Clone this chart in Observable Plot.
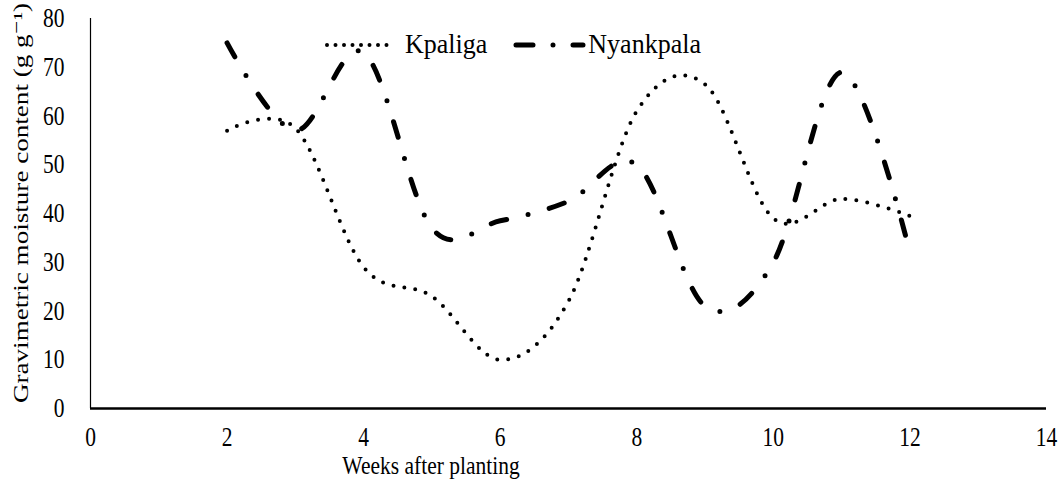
<!DOCTYPE html>
<html>
<head>
<meta charset="utf-8">
<script src="https://cdn.jsdelivr.net/npm/d3@7"></script>
<script src="https://cdn.jsdelivr.net/npm/@observablehq/plot@0.6"></script>
<style>
  html, body { margin: 0; padding: 0; background: #fff; }
  #wrap { position: relative; width: 1060px; height: 482px; overflow: hidden; font-family: "Liberation Serif", "DejaVu Serif", serif; color: #000; }
  #legend { position: absolute; top: 35px; left: 324px; display: flex; align-items: center; font-size: 26px; height: 20px; }
  #legend .item { display: flex; align-items: center; height: 20px; }
  #legend svg { display: block; }
  #legend span { display: inline-block; line-height: 20px; transform: scaleY(1.05); transform-origin: 50% 50%; white-space: nowrap; }
  #xlabel { position: absolute; left: 431px; top: 454px; font-size: 21.5px; line-height: 1; white-space: nowrap; transform: translateX(-50%) scaleY(1.2); transform-origin: 50% 0; }
  #ylabel { position: absolute; left: 22px; top: 203px; font-size: 21.5px; line-height: 1; white-space: nowrap; transform: translate(-50%, -50%) rotate(-90deg) scaleX(1.26); transform-origin: 50% 50%; }
</style>
</head>
<body>
<div id="wrap"></div>
<script>
const weeks = [2, 3, 4, 5, 6, 7, 8, 9, 10, 11, 12];
const kpaliga = [57, 57.5, 29, 23, 10, 22, 61, 66.5, 39, 43, 39.5];
const nyankpala = [75, 57, 73, 37, 38.5, 42.5, 50, 21, 30, 69, 32];
const xTicks = [0, 2, 4, 6, 8, 10, 12, 14];
const yTicks = [0, 10, 20, 30, 40, 50, 60, 70, 80];
const seriesNames = ["Kpaliga", "Nyankpala"];
const xTitle = "Weeks after planting";
const yTitle = "Gravimetric moisture content (g g\u207B\u00B9)";

const styles = {
  Kpaliga: { strokeWidth: 4, dash: "0 11", legendDash: "0 8.5" },
  Nyankpala: { strokeWidth: 5, dash: "16 22 0 22", legendDash: "17 20 0 20" }
};

const rows = [];
weeks.forEach((w, i) => {
  rows.push({ series: "Kpaliga", week: w, value: kpaliga[i] });
  rows.push({ series: "Nyankpala", week: w, value: nyankpala[i] });
});

const chart = Plot.plot({
  width: 1060,
  height: 482,
  marginLeft: 90,
  marginRight: 14,
  marginTop: 18,
  marginBottom: 74,
  style: { fontFamily: "Liberation Serif, DejaVu Serif, serif", fontSize: "21.5px", background: "transparent", color: "#000", overflow: "visible" },
  x: { domain: [0, 14] },
  y: { domain: [0, 80] },
  marks: [
    Plot.axisX({ ticks: xTicks, tickSize: 0, tickPadding: 18, label: null }),
    Plot.axisY({ ticks: yTicks, tickSize: 0, tickPadding: 26, label: null }),
    Plot.ruleX([0], { stroke: "#000", strokeWidth: 1.2 }),
    Plot.ruleY([0], { stroke: "#000", strokeWidth: 2.5 }),
    ...seriesNames.map(name => Plot.line(rows.filter(d => d.series === name), {
      x: "week", y: "value", curve: "cardinal",
      stroke: "#000", strokeWidth: styles[name].strokeWidth,
      strokeDasharray: styles[name].dash, strokeLinecap: "round", strokeLinejoin: "round"
    }))
  ]
});

// stretch tick labels vertically to match the reference's tall serif glyphs
d3.select(chart).selectAll('g[aria-label="x-axis tick label"] text, g[aria-label="y-axis tick label"] text').each(function () {
  const tr = this.getAttribute("transform");
  if (tr) {
    this.setAttribute("transform", tr + " scale(1,1.26)");
  } else {
    const x = +this.getAttribute("x") || 0, y = +this.getAttribute("y") || 0;
    this.setAttribute("x", 0);
    this.setAttribute("y", 0);
    this.setAttribute("transform", `translate(${x},${y}) scale(1,1.26)`);
  }
});

const wrap = document.getElementById("wrap");
wrap.appendChild(chart);

const legend = document.createElement("div");
legend.id = "legend";
const sampleWidths = { Kpaliga: 68, Nyankpala: 73 };
const gaps = { Kpaliga: 13, Nyankpala: 2 };
seriesNames.forEach((name, i) => {
  const item = document.createElement("div");
  item.className = "item";
  if (i > 0) item.style.marginLeft = "26px";
  const w = sampleWidths[name];
  const s = d3.create("svg").attr("width", w).attr("height", 20);
  s.append("line").attr("x1", 3).attr("x2", w - 3).attr("y1", 10).attr("y2", 10)
    .attr("stroke", "#000").attr("stroke-width", styles[name].strokeWidth)
    .attr("stroke-dasharray", styles[name].legendDash)
    .attr("stroke-linecap", "round");
  item.appendChild(s.node());
  const t = document.createElement("span");
  t.textContent = name;
  t.style.marginLeft = gaps[name] + "px";
  item.appendChild(t);
  legend.appendChild(item);
});
wrap.appendChild(legend);

const xl = document.createElement("div");
xl.id = "xlabel";
xl.textContent = xTitle;
wrap.appendChild(xl);

const yl = document.createElement("div");
yl.id = "ylabel";
yl.textContent = yTitle;
wrap.appendChild(yl);
</script>
</body>
</html>
